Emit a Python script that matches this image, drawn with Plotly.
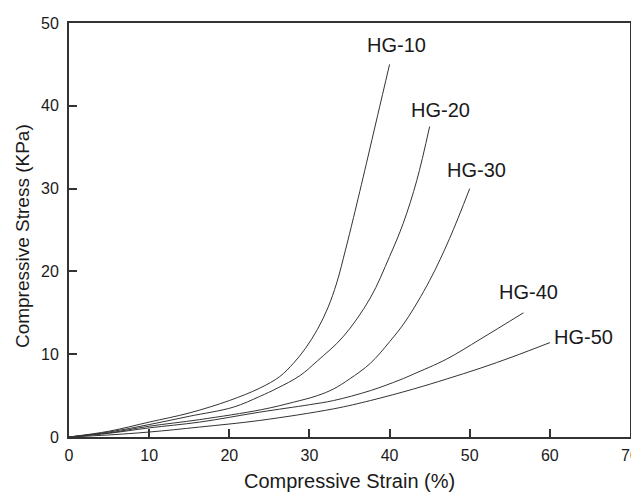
import plotly.graph_objects as go

# Data
hg10_x = [0, 5, 10, 15, 20, 23.8, 26.3, 28, 29.5, 31, 32.3, 33.4, 34.5, 35.5, 37.1, 38.5, 40]
hg10_y = [0, 0.7, 1.8, 2.9, 4.4, 5.9, 7.3, 8.9, 10.7, 13.0, 15.6, 18.6, 22.6, 26.5, 33.0, 38.8, 45.0]

hg20_x = [0, 5, 10, 15, 20.5, 23.8, 26, 28.8, 31, 34.2, 37.6, 40, 41.7, 43.4, 45]
hg20_y = [0, 0.6, 1.5, 2.5, 3.6, 4.9, 5.9, 7.4, 9.2, 12.1, 16.8, 21.8, 25.8, 31.0, 37.5]

hg30_x = [0, 5, 10, 16.3, 24, 28, 31, 33, 35, 37.6, 40, 42, 45, 47.5, 50]
hg30_y = [0, 0.5, 1.3, 2.1, 3.3, 4.2, 5.0, 5.8, 7.0, 8.9, 11.5, 14.0, 18.9, 24.0, 30.0]

hg40_x = [0, 5, 10, 16.3, 23.8, 30, 33, 37.6, 41.3, 43, 47.1, 51.3, 56.7]
hg40_y = [0, 0.45, 1.1, 1.8, 3.0, 3.9, 4.4, 5.6, 6.9, 7.6, 9.4, 11.8, 15.0]

hg50_x = [0, 5, 10, 16.3, 23.8, 33, 37.6, 43, 47.1, 51.3, 55.4, 60]
hg50_y = [0, 0.25, 0.6, 1.2, 2.0, 3.4, 4.4, 5.8, 7.0, 8.3, 9.7, 11.4]

series_names = ["HG-10", "HG-20", "HG-30", "HG-40", "HG-50"]
series_x = [hg10_x, hg20_x, hg30_x, hg40_x, hg50_x]
series_y = [hg10_y, hg20_y, hg30_y, hg40_y, hg50_y]

label_x = [40.9, 46.3, 50.9, 57.3, 64.2]
label_y = [47.4, 39.5, 32.25, 17.5, 12.1]

x_ticks = [0, 10, 20, 30, 40, 50, 60, 70]
y_ticks = [0, 10, 20, 30, 40, 50]

FONT = "Liberation Sans, Arial, Helvetica, sans-serif"
TXT = "#1a1a1a"

fig = go.Figure()
for name, xs, ys in zip(series_names, series_x, series_y):
    fig.add_trace(go.Scatter(x=xs, y=ys, mode="lines", name=name,
                             line=dict(color="#333333", width=1, shape="spline", smoothing=1.0),
                             showlegend=False, hoverinfo="skip"))

for name, lx, ly in zip(series_names, label_x, label_y):
    fig.add_annotation(x=lx, y=ly, xref="x", yref="y", text=name, showarrow=False,
                       font=dict(family=FONT, size=20, color=TXT))

# axis titles as annotations for exact placement
fig.add_annotation(x=0.5, y=-0.107, xref="paper", yref="paper",
                   text="Compressive Strain (%)", showarrow=False,
                   xanchor="center", yanchor="middle",
                   font=dict(family=FONT, size=20, color=TXT))
fig.add_annotation(x=-0.084, y=0.485, xref="paper", yref="paper",
                   text="Compressive Stress (KPa)", showarrow=False, textangle=-90,
                   xanchor="center", yanchor="middle",
                   font=dict(family=FONT, size=19, color=TXT))

axis_common = dict(showgrid=False, zeroline=False, showline=True, linewidth=2,
                   linecolor="#333333", mirror=True, ticks="inside", ticklen=8,
                   tickwidth=1.5, tickcolor="#333333", automargin=False,
                   tickfont=dict(family=FONT, size=16, color=TXT))

# the page places the figure 8px from the top-left corner
fig.update_layout(
    width=631, height=486,
    margin=dict(l=61, r=9, t=15, b=57),
    paper_bgcolor="white", plot_bgcolor="white",
    xaxis=dict(range=[0, 70], tickvals=x_ticks, ticklabelstandoff=3, **axis_common),
    yaxis=dict(range=[0, 50], tickvals=y_ticks, ticklabelstandoff=5, **axis_common),
)

fig.write_html("out.html")
